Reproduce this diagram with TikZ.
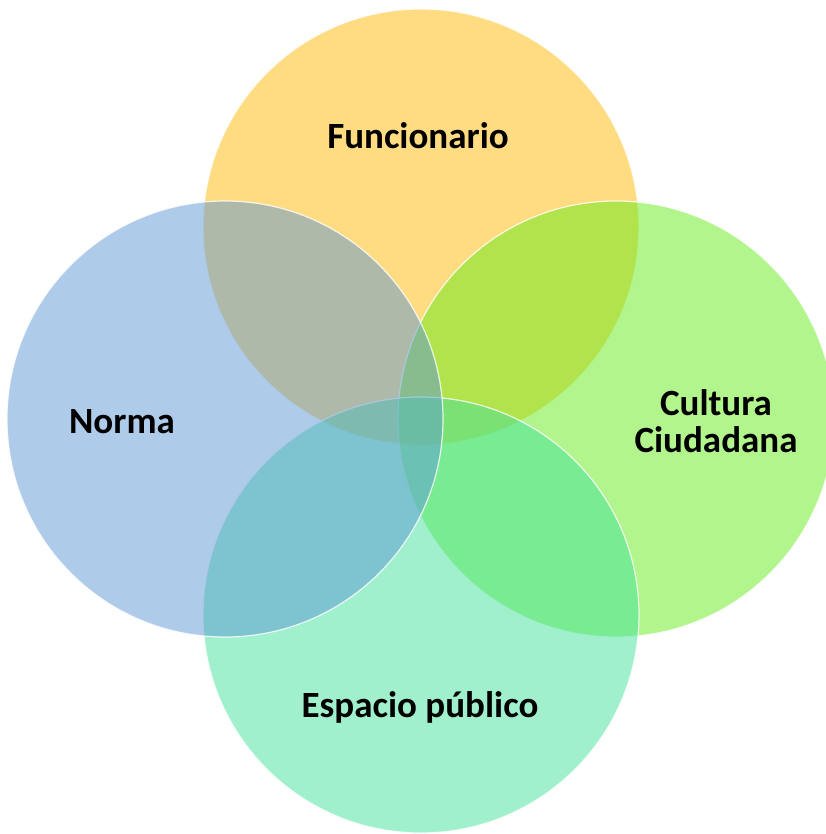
\documentclass[tikz,border=0pt]{standalone}
\usepackage{fontspec}
\setmainfont{Carlito}
\tikzset{
every picture/.style={
line width=1pt
}}

\begin{document}
\begin{tikzpicture}[x=1pt, y=-1pt,
bubble/.style = {circle, minimum size=436pt, inner sep=0pt, draw=white, line width=1.2pt, fill opacity=0.5, draw opacity=0.8},
tag/.style = {align=center, font=\fontsize{37}{37}\selectfont\bfseries}]

\useasboundingbox (0,0) rectangle (825,834);

\definecolor{cfunc}{RGB}{255,185,5}
\definecolor{cnorma}{RGB}{93,151,211}
\definecolor{ccult}{RGB}{101,235,25}
\definecolor{cesp}{RGB}{65,225,155}

\node[bubble, fill=cfunc] (func) at (421,227) {};
\node[bubble, fill=ccult] (cult) at (616,419) {};
\node[bubble, fill=cesp] (esp) at (421,615) {};
\node[bubble, fill=cnorma] (norma) at (225,419) {};

\node[tag] (tfunc) at (418,136) {Funcionario};
\node[tag] (tnorma) at (122,422) {Norma};
\node[tag] (tcult) at (716,421) {Cultura\\Ciudadana};
\node[tag] (tesp) at (420,707) {Espacio público};
\end{tikzpicture}
\end{document}
